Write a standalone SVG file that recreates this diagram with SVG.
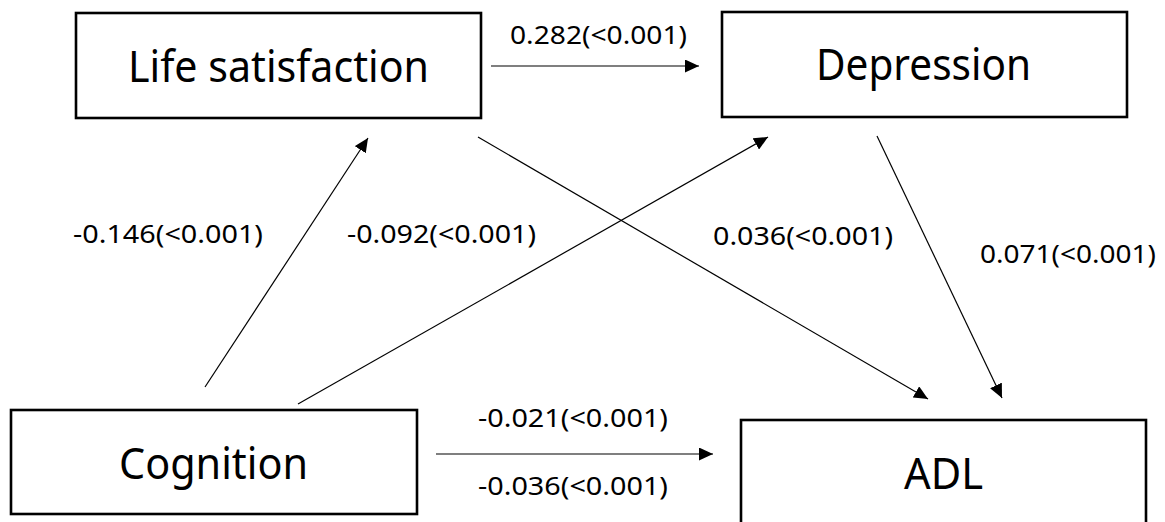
<svg xmlns="http://www.w3.org/2000/svg" width="1165" height="522" viewBox="0 0 1165 522">
<style>
.box{fill:#fff;stroke:#000;stroke-width:2.6}
.nt{font-family:"Noto Sans","Open Sans",sans-serif;font-size:43px;fill:#000;text-anchor:start}
.lb{font-family:"Noto Sans","Open Sans",sans-serif;font-size:25px;fill:#000}
.ln{stroke:#000;stroke-width:1.2;fill:none;marker-end:url(#ah)}
</style>
<defs>
<marker id="ah" markerUnits="userSpaceOnUse" markerWidth="14" markerHeight="13" refX="14" refY="6.5" orient="auto">
<path d="M0,0 L14,6.5 L0,13 z" fill="#000"/>
</marker>
</defs>
<rect width="1165" height="522" fill="#fff"/>
<g id="connectors">
<line class="ln" x1="491" y1="66" x2="699" y2="66"/>
<line class="ln" x1="205" y1="387" x2="368" y2="138"/>
<line class="ln" x1="298" y1="404" x2="768" y2="137"/>
<line class="ln" x1="478" y1="137" x2="928" y2="399"/>
<line class="ln" x1="877" y1="136" x2="1002" y2="398"/>
<line class="ln" x1="436" y1="454" x2="713" y2="454"/>
</g>
<g id="labels">
<text class="lb" x="510" y="44" textLength="177" lengthAdjust="spacingAndGlyphs">0.282(&lt;0.001)</text>
<text class="lb" x="73" y="243" textLength="190" lengthAdjust="spacingAndGlyphs">-0.146(&lt;0.001)</text>
<text class="lb" x="347" y="243" textLength="189" lengthAdjust="spacingAndGlyphs">-0.092(&lt;0.001)</text>
<text class="lb" x="713" y="245" textLength="180" lengthAdjust="spacingAndGlyphs">0.036(&lt;0.001)</text>
<text class="lb" x="980" y="263" textLength="176" lengthAdjust="spacingAndGlyphs">0.071(&lt;0.001)</text>
<text class="lb" x="478" y="427" textLength="190" lengthAdjust="spacingAndGlyphs">-0.021(&lt;0.001)</text>
<text class="lb" x="478" y="495" textLength="190" lengthAdjust="spacingAndGlyphs">-0.036(&lt;0.001)</text>
</g>
<g id="node-life-satisfaction">
<rect class="box" x="76" y="13" width="405" height="105"/>
<text class="nt" x="128" y="82" textLength="301" lengthAdjust="spacingAndGlyphs">Life satisfaction</text>
</g>
<g id="node-depression">
<rect class="box" x="722" y="12" width="405" height="105"/>
<text class="nt" x="816" y="80" textLength="215" lengthAdjust="spacingAndGlyphs">Depression</text>
</g>
<g id="node-cognition">
<rect class="box" x="11" y="410" width="406" height="104"/>
<text class="nt" x="119" y="479" textLength="189" lengthAdjust="spacingAndGlyphs">Cognition</text>
</g>
<g id="node-adl">
<rect class="box" x="741" y="420" width="405" height="110"/>
<text class="nt" x="904" y="489" textLength="79" lengthAdjust="spacingAndGlyphs">ADL</text>
</g>
</svg>
